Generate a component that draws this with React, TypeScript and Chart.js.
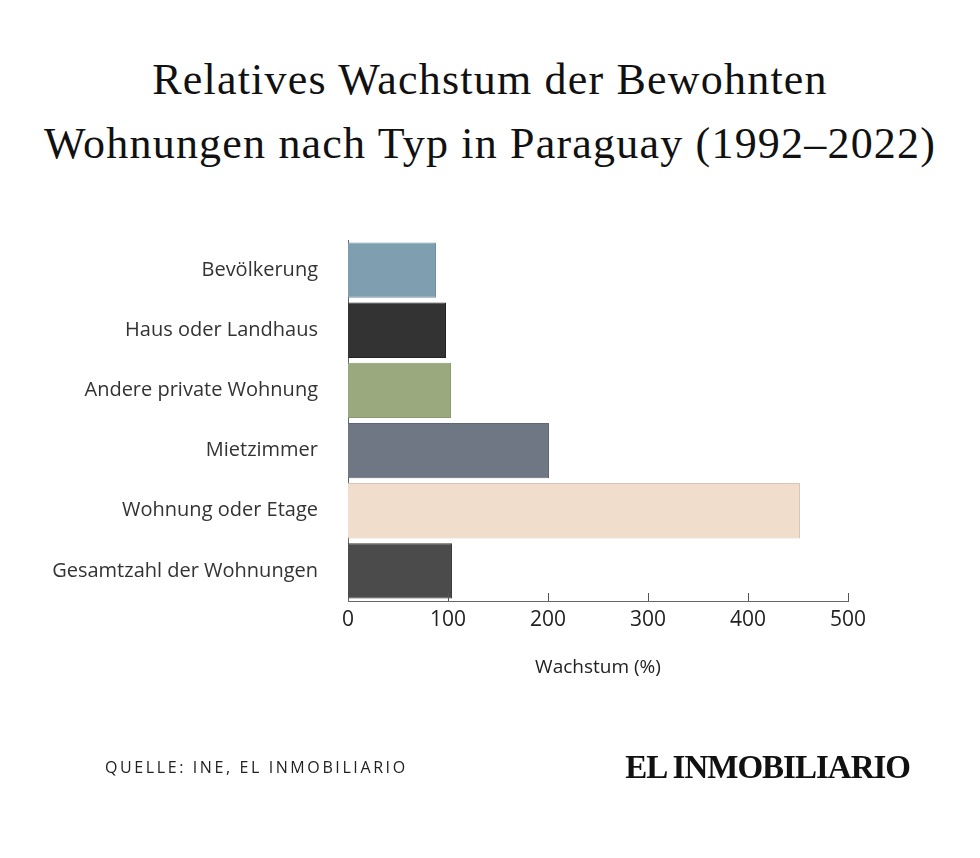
import { useEffect, useRef } from "react"
import { Chart, registerables } from "chart.js"

Chart.register(...registerables)

const categories = [
  "Bevölkerung",
  "Haus oder Landhaus",
  "Andere private Wohnung",
  "Mietzimmer",
  "Wohnung oder Etage",
  "Gesamtzahl der Wohnungen",
]
const growth = [88, 98, 103, 201, 452, 104]
const barColors = ["#7f9fb1", "#333333", "#9aa97e", "#6f7684", "#f0ddcc", "#4b4b4b"]
const barBorders = ["#6f8fa1", "#222222", "#8a996e", "#5f6674", "#dcc5b2", "#3b3b3b"]
const xTicks = [0, 100, 200, 300, 400, 500]

// short tick marks pointing up into the plot from the x axis
const innerTicks = {
  id: "innerTicks",
  afterDraw(chart: Chart) {
    const x = chart.scales.x
    const ctx = chart.ctx
    const bottom = chart.chartArea.bottom
    ctx.save()
    ctx.strokeStyle = "#555"
    ctx.lineWidth = 1
    x.ticks.forEach((_, i) => {
      if (i === 0) return
      const px = Math.round(x.getPixelForTick(i)) + 0.5
      ctx.beginPath()
      ctx.moveTo(px, bottom)
      ctx.lineTo(px, bottom - 8)
      ctx.stroke()
    })
    ctx.restore()
  },
}

export default function App() {
  const chartRef = useRef<HTMLCanvasElement>(null)
  const chartInstance = useRef<Chart | null>(null)

  useEffect(() => {
    document.body.style.margin = "0"
    if (!chartRef.current) return
    if (chartInstance.current) chartInstance.current.destroy()
    const ctx = chartRef.current.getContext("2d")
    if (!ctx) return

    chartInstance.current = new Chart(ctx, {
      type: "bar",
      data: {
        labels: categories,
        datasets: [
          {
            data: growth,
            backgroundColor: barColors,
            borderColor: barBorders,
            borderWidth: 1,
            barPercentage: 0.92,
            categoryPercentage: 1,
          },
        ],
      },
      options: {
        indexAxis: "y",
        animation: false,
        responsive: true,
        maintainAspectRatio: false,
        layout: { padding: { top: 240, right: 132, bottom: 177, left: 0 } },
        plugins: {
          legend: { display: false },
          tooltip: { enabled: false },
        },
        scales: {
          x: {
            min: 0,
            max: 500,
            afterBuildTicks: (scale) => {
              scale.ticks = xTicks.map((v) => ({ value: v }))
            },
            afterFit: (scale) => {
              scale.height = 80
            },
            grid: { display: false },
            border: { display: true, color: "#666", width: 1 },
            ticks: {
              color: "#222",
              padding: -2,
              font: { family: "Open Sans", size: 21 },
            },
            title: {
              display: true,
              text: "Wachstum (%)",
              color: "#222",
              padding: { top: 6, bottom: 2 },
              font: { family: "Open Sans", size: 19 },
            },
          },
          y: {
            afterFit: (scale) => {
              scale.width = 348
            },
            grid: { display: false },
            border: { display: true, color: "#666", width: 1 },
            ticks: {
              color: "#333",
              padding: 22,
              font: { family: "Open Sans", size: 20 },
            },
          },
        },
      },
      plugins: [innerTicks],
    })

    return () => {
      if (chartInstance.current) {
        chartInstance.current.destroy()
        chartInstance.current = null
      }
    }
  }, [])

  return (
    <div style={{ position: "relative", width: 980, height: 858, background: "#fff" }}>
      <div
        style={{
          position: "absolute",
          top: 48,
          left: 0,
          width: 980,
          textAlign: "center",
          fontFamily: "Liberation Serif",
          fontSize: 44,
          lineHeight: "64px",
          color: "#111",
          letterSpacing: 1.2,
        }}
      >
        Relatives Wachstum der Bewohnten
        <br />
        Wohnungen nach Typ in Paraguay (1992–2022)
      </div>
      <div style={{ position: "absolute", left: 0, top: 0, width: 980, height: 858 }}>
        <canvas ref={chartRef} />
      </div>
      <div
        style={{
          position: "absolute",
          left: 105,
          top: 756,
          fontFamily: "Open Sans",
          fontSize: 16,
          letterSpacing: 2.6,
          color: "#222",
        }}
      >
        QUELLE: INE, EL INMOBILIARIO
      </div>
      <div
        style={{
          position: "absolute",
          right: 70,
          top: 749,
          fontFamily: "Liberation Serif",
          fontWeight: "bold",
          fontSize: 33,
          letterSpacing: -1,
          color: "#111",
        }}
      >
        EL INMOBILIARIO
      </div>
    </div>
  )
}
